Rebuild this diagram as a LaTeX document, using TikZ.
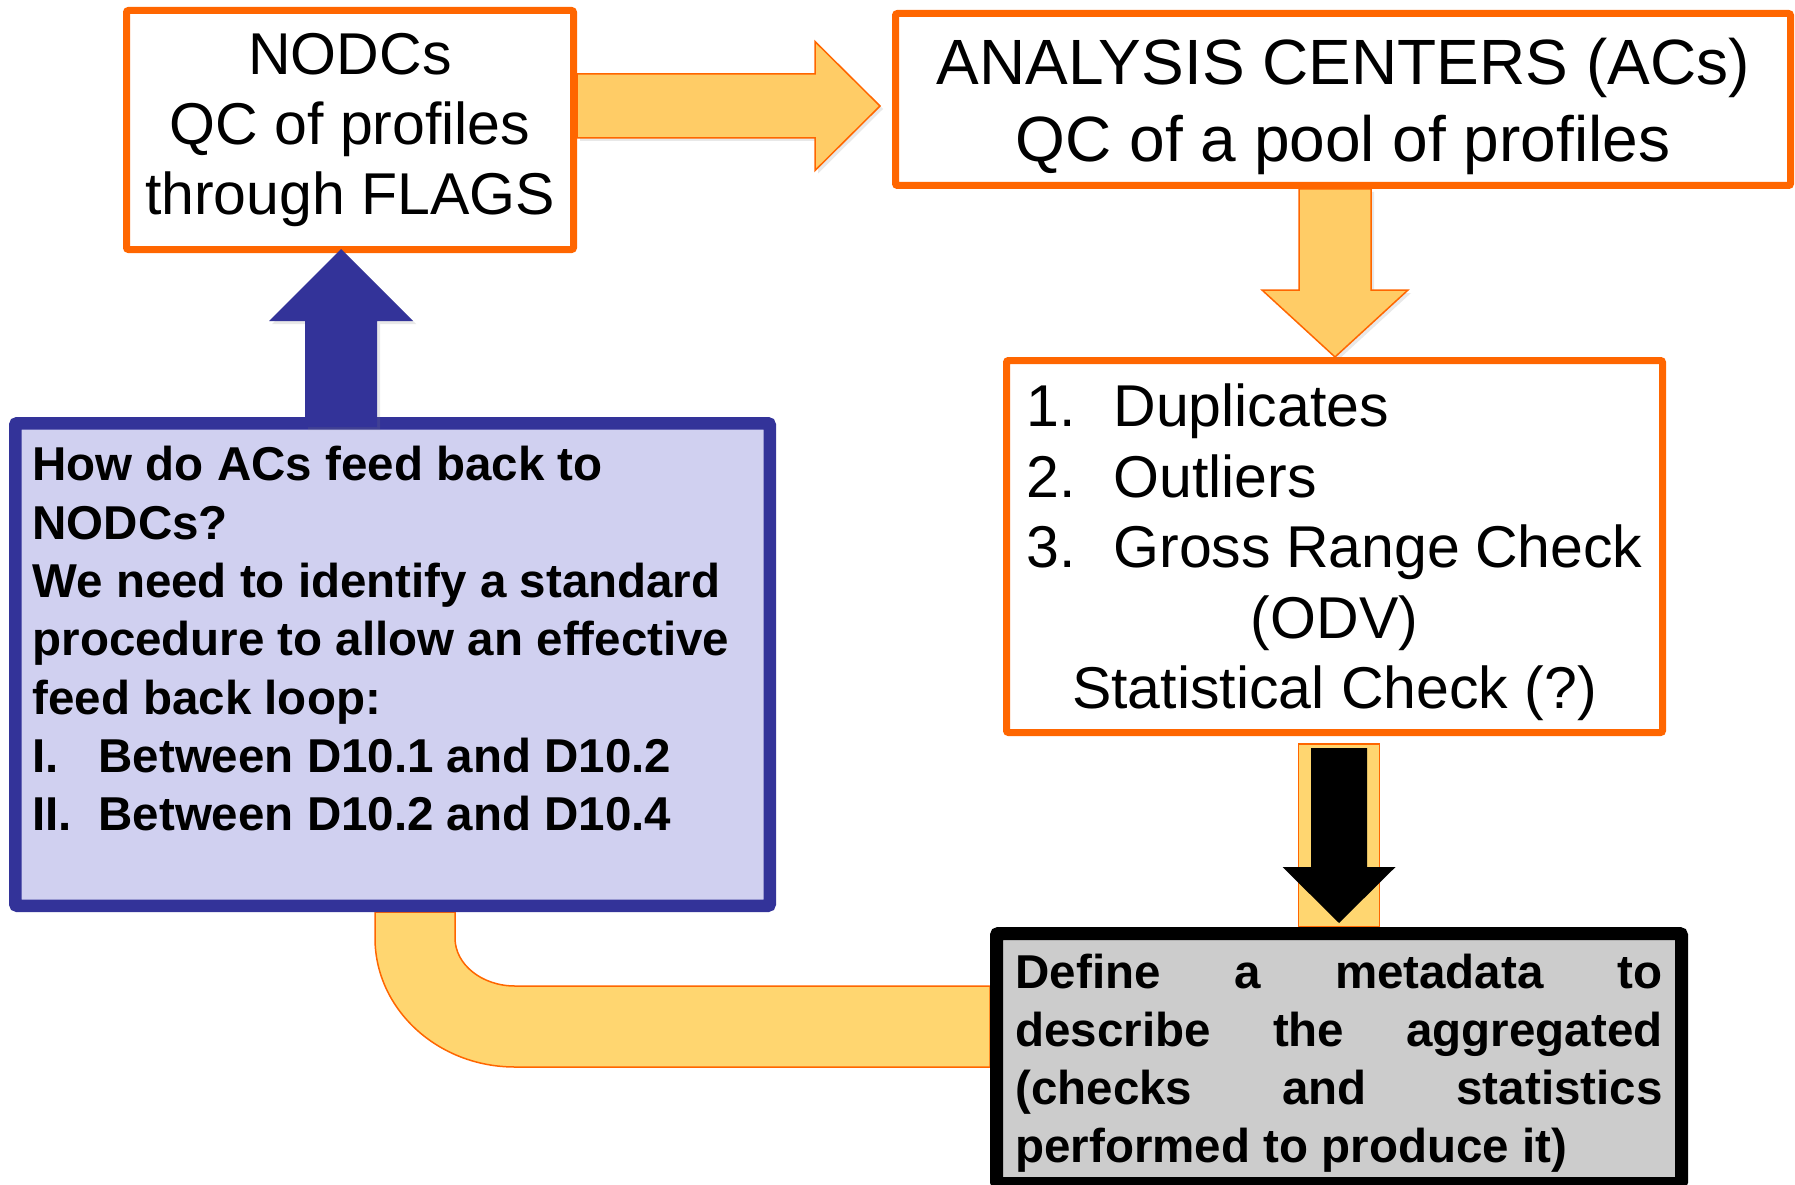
\documentclass[tikz,border=0pt]{standalone}
\usepackage{fontspec}
\setmainfont{Liberation Sans}
\usetikzlibrary{calc}
\usetikzlibrary{shadows}
\usetikzlibrary{backgrounds}

\definecolor{boxorange}{RGB}{255,102,0}
\definecolor{arrowyellow}{RGB}{255,204,102}
\definecolor{bandyellow}{RGB}{255,214,112}
\definecolor{feedblue}{RGB}{51,51,153}
\definecolor{feedlilac}{RGB}{208,208,240}
\definecolor{metagrey}{RGB}{204,204,204}

\tikzset{
  orangebox/.style={draw=boxorange,line width=7pt,fill=white,rounded corners=2pt,inner sep=0pt},
  feedbox/.style={draw=feedblue,line width=12.5pt,fill=feedlilac,rounded corners=2pt,inner sep=0pt},
  metabox/.style={draw=black,line width=13pt,fill=metagrey,rounded corners=2pt,inner sep=0pt},
  fatarrow/.style={draw=boxorange,line width=1.5pt,fill=arrowyellow,
    drop shadow={opacity=0.18,shadow xshift=3pt,shadow yshift=-3pt}},
  bluearrow/.style={fill=feedblue,drop shadow={opacity=0.18,shadow xshift=3pt,shadow yshift=-3pt}},
  blackarrow/.style={fill=black},
  band/.style={draw=boxorange,line width=1.5pt,fill=bandyellow}
}

\begin{document}
\begin{tikzpicture}[x=1pt,y=-1pt,line join=miter]
\useasboundingbox (0,0) rectangle (1795,1185);

% boxes
\node[orangebox,minimum width=447,minimum height=239,align=center,
  font=\fontsize{59}{70}\selectfont] (nodc) at (350,130)
  {NODCs\\QC of profiles\\through FLAGS};
\node[orangebox,minimum width=895,minimum height=172] (acs) at (1343,99.5)
  {\parbox[c][122pt][t]{880pt}{\centering\fontsize{64}{77}\selectfont
   ANALYSIS CENTERS (ACs)\\
   QC of a pool of profiles\par}};
\node[orangebox,minimum width=656,minimum height=372] (checks) at (1334.5,546.5)
  {\parbox[c][325pt][t]{616pt}{\fontsize{59}{70.5}\selectfont
   \makebox[87pt][l]{1.}Duplicates\\
   \makebox[87pt][l]{2.}Outliers\\
   \makebox[87pt][l]{3.}Gross Range Check\par
   \centering (ODV)\\
   Statistical Check (?)\par}};
\node[feedbox,minimum width=754.5,minimum height=482.5] (feed) at (392.5,664.5)
  {\parbox[c][436pt][t]{720pt}{\raggedright\bfseries\fontsize{47.5}{58.3}\selectfont
   How do ACs feed back to\\
   NODCs?\\
   We need to identify a standard\\
   procedure to allow an effective\\
   feed back loop:\\
   \makebox[66pt][l]{I.}Between D10.1 and D10.2\\
   \makebox[66pt][l]{II.}Between D10.2 and D10.4}};
\node[metabox,minimum width=685,minimum height=250] (meta) at (1339,1058.5)
  {\parbox[c][209pt][t]{647pt}{\bfseries\fontsize{47.5}{58}\selectfont\hyphenpenalty=10000
   Define a metadata to\linebreak
   describe the aggregated\linebreak
   (checks and statistics\linebreak
   performed to produce it)}};

% helper rows and columns
\coordinate (rowa) at (0,106);
\coordinate (colb) at (1335,0);
\coordinate (colu) at (341,0);
\coordinate (bo) at (375,0);
\coordinate (bi) at (455,0);
\coordinate (bt) at (0,986);
\coordinate (bb) at (0,1067);

% loop back band and strip behind the boxes
\begin{scope}[on background layer]
\draw[band] (bo |- feed.south) -- (375,938) .. controls (375,1009.2) and (437.7,1067) .. (515,1067)
  -- (meta.west |- bb) -- (meta.west |- bt) -- (515,986)
  .. controls (481.9,986) and (455,964.5) .. (455,938) -- (bi |- feed.south) -- cycle;
\draw[band] ($(checks.south -| meta.north)+(-40.5,8)$) rectangle ($(meta.north)+(40.5,0)$);
\end{scope}

% NODCs -> ACs
\coordinate (r0) at (nodc.east |- rowa);
\coordinate (r1) at ($(acs.west |- rowa)+(-12,0)$);
\draw[fatarrow] ($(r0)+(0,-32)$) -- ($(r1)+(-65,-32)$) -- ($(r1)+(-65,-64.5)$) -- (r1)
  -- ($(r1)+(-65,64.5)$) -- ($(r1)+(-65,32)$) -- ($(r0)+(0,32)$) -- cycle;

% ACs -> checks
\coordinate (d0) at (colb |- acs.south);
\coordinate (d1) at (colb |- checks.north);
\draw[fatarrow] ($(d0)+(-36,0)$) -- ($(d1)+(-36,-67)$) -- ($(d1)+(-73,-67)$) -- (d1)
  -- ($(d1)+(73,-67)$) -- ($(d1)+(36,-67)$) -- ($(d0)+(36,0)$) -- cycle;

% checks -> metadata
\coordinate (k0) at ($(checks.south -| meta.north)+(0,12)$);
\coordinate (k1) at ($(meta.north)+(0,-4)$);
\fill[blackarrow] ($(k0)+(-28,0)$) -- ($(k1)+(-28,-56)$) -- ($(k1)+(-56.5,-56)$) -- (k1)
  -- ($(k1)+(56.5,-56)$) -- ($(k1)+(28,-56)$) -- ($(k0)+(28,0)$) -- cycle;

% feed back -> NODCs
\coordinate (u0) at ($(colu |- feed.north)+(0,10)$);
\coordinate (u1) at ($(colu |- nodc.south)+(0,-4)$);
\fill[bluearrow] ($(u0)+(-36,0)$) -- ($(u1)+(-36,72)$) -- ($(u1)+(-72,72)$) -- (u1)
  -- ($(u1)+(72,72)$) -- ($(u1)+(36,72)$) -- ($(u0)+(36,0)$) -- cycle;
\end{tikzpicture}
\end{document}
